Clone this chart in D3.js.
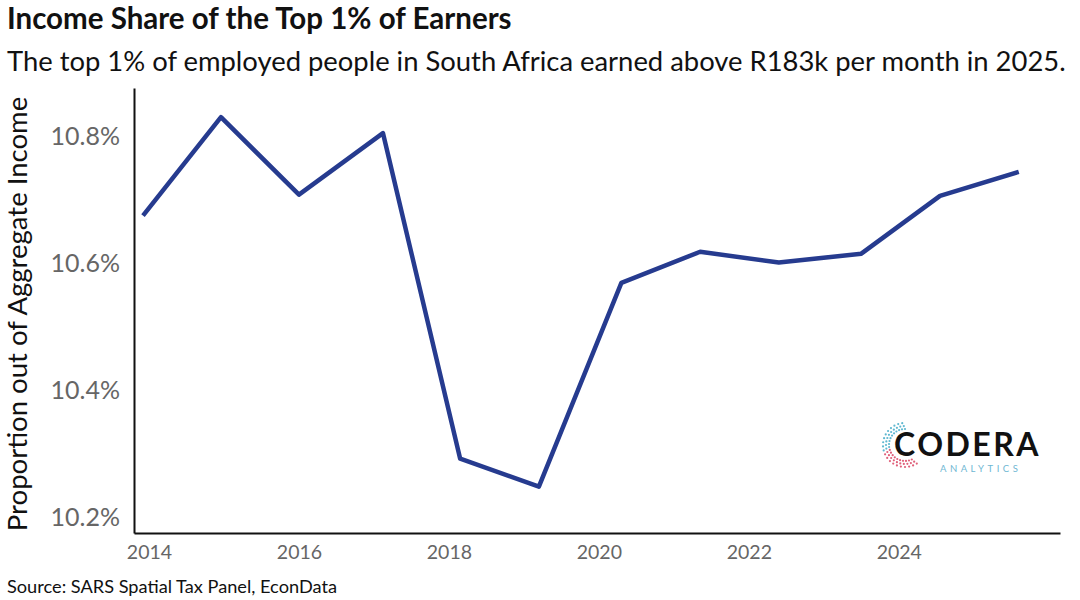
<!DOCTYPE html>
<html><head><meta charset="utf-8">
<script src="https://cdn.jsdelivr.net/npm/d3@7"></script>
<style>body{margin:0;background:#fff;font-family:Lato,sans-serif}</style>
</head><body><svg id="c" width="1080" height="600"></svg>
<script>
const years = [2013.92,2014.96,2016.0,2017.12,2018.15,2019.2,2020.3,2021.35,2022.4,2023.5,2024.55,2025.6];
const shares = [10.676,10.831,10.709,10.806,10.293,10.249,10.570,10.619,10.602,10.616,10.707,10.745];
const xTicks = [2014,2016,2018,2020,2022,2024];
const yTicks = [10.2,10.4,10.6,10.8];

const svg = d3.select("#c");
const x = d3.scaleLinear().domain([2013.8,2026.15]).range([134,1060]);
const y = d3.scaleLinear().domain([10.176,10.877]).range([533,88]);

svg.append("text").attr("x",7).attr("y",29).attr("font-size",29.5).attr("font-weight",700).attr("fill","#111").text("Income Share of the Top 1% of Earners");
svg.append("text").attr("x",7).attr("y",71).attr("font-size",27.4).attr("fill","#111").text("The top 1% of employed people in South Africa earned above R183k per month in 2025.");
svg.append("text").attr("x",7).attr("y",593).attr("font-size",18.2).attr("fill","#111").text("Source: SARS Spatial Tax Panel, EconData");

const ya = svg.append("g").attr("transform","translate(134,0)").call(d3.axisLeft(y).tickValues(yTicks).tickFormat(d=>d.toFixed(1)+"%").tickSize(0).tickPadding(14));
ya.select(".domain").attr("stroke","#111").attr("stroke-width",2);
ya.selectAll("text").attr("font-family","Lato").attr("font-size",25).attr("fill","#666");
const xa = svg.append("g").attr("transform","translate(0,533)").call(d3.axisBottom(x).tickValues(xTicks).tickFormat(d3.format("d")).tickSize(0).tickPadding(12));
xa.select(".domain").attr("stroke","#111").attr("stroke-width",2);
xa.selectAll("text").attr("font-family","Lato").attr("font-size",19.5).attr("fill","#666");

svg.append("text").attr("transform","translate(27,314) rotate(-90)").attr("text-anchor","middle").attr("font-size",27.5).attr("fill","#111").text("Proportion out of Aggregate Income");

svg.append("path").datum(years.map((d,i)=>[d,shares[i]]))
  .attr("d",d3.line().x(d=>x(d[0])).y(d=>y(d[1])))
  .attr("fill","none").attr("stroke","#263b8f").attr("stroke-width",4.5).attr("stroke-linejoin","round");

// logo
const lg = svg.append("g");
for(let i=0;i<60;i++){const a=Math.PI*0.5+ i/60*Math.PI*1.2; const r=16+ (i%3)*3;
  lg.append("circle").attr("cx",905+r*Math.cos(a)).attr("cy",445-r*Math.sin(a)).attr("r",1.1).attr("fill",i<30?"#5fb8d0":"#e0607a");}
svg.append("text").attr("x",894).attr("y",456).attr("font-size",32).attr("font-weight",700).attr("letter-spacing",2.5).attr("fill","#111").text("CODERA");
svg.append("text").attr("x",940).attr("y",472).attr("font-size",9.5).attr("letter-spacing",3.5).attr("fill","#6fb7d3").text("ANALYTICS");
</script></body></html>
